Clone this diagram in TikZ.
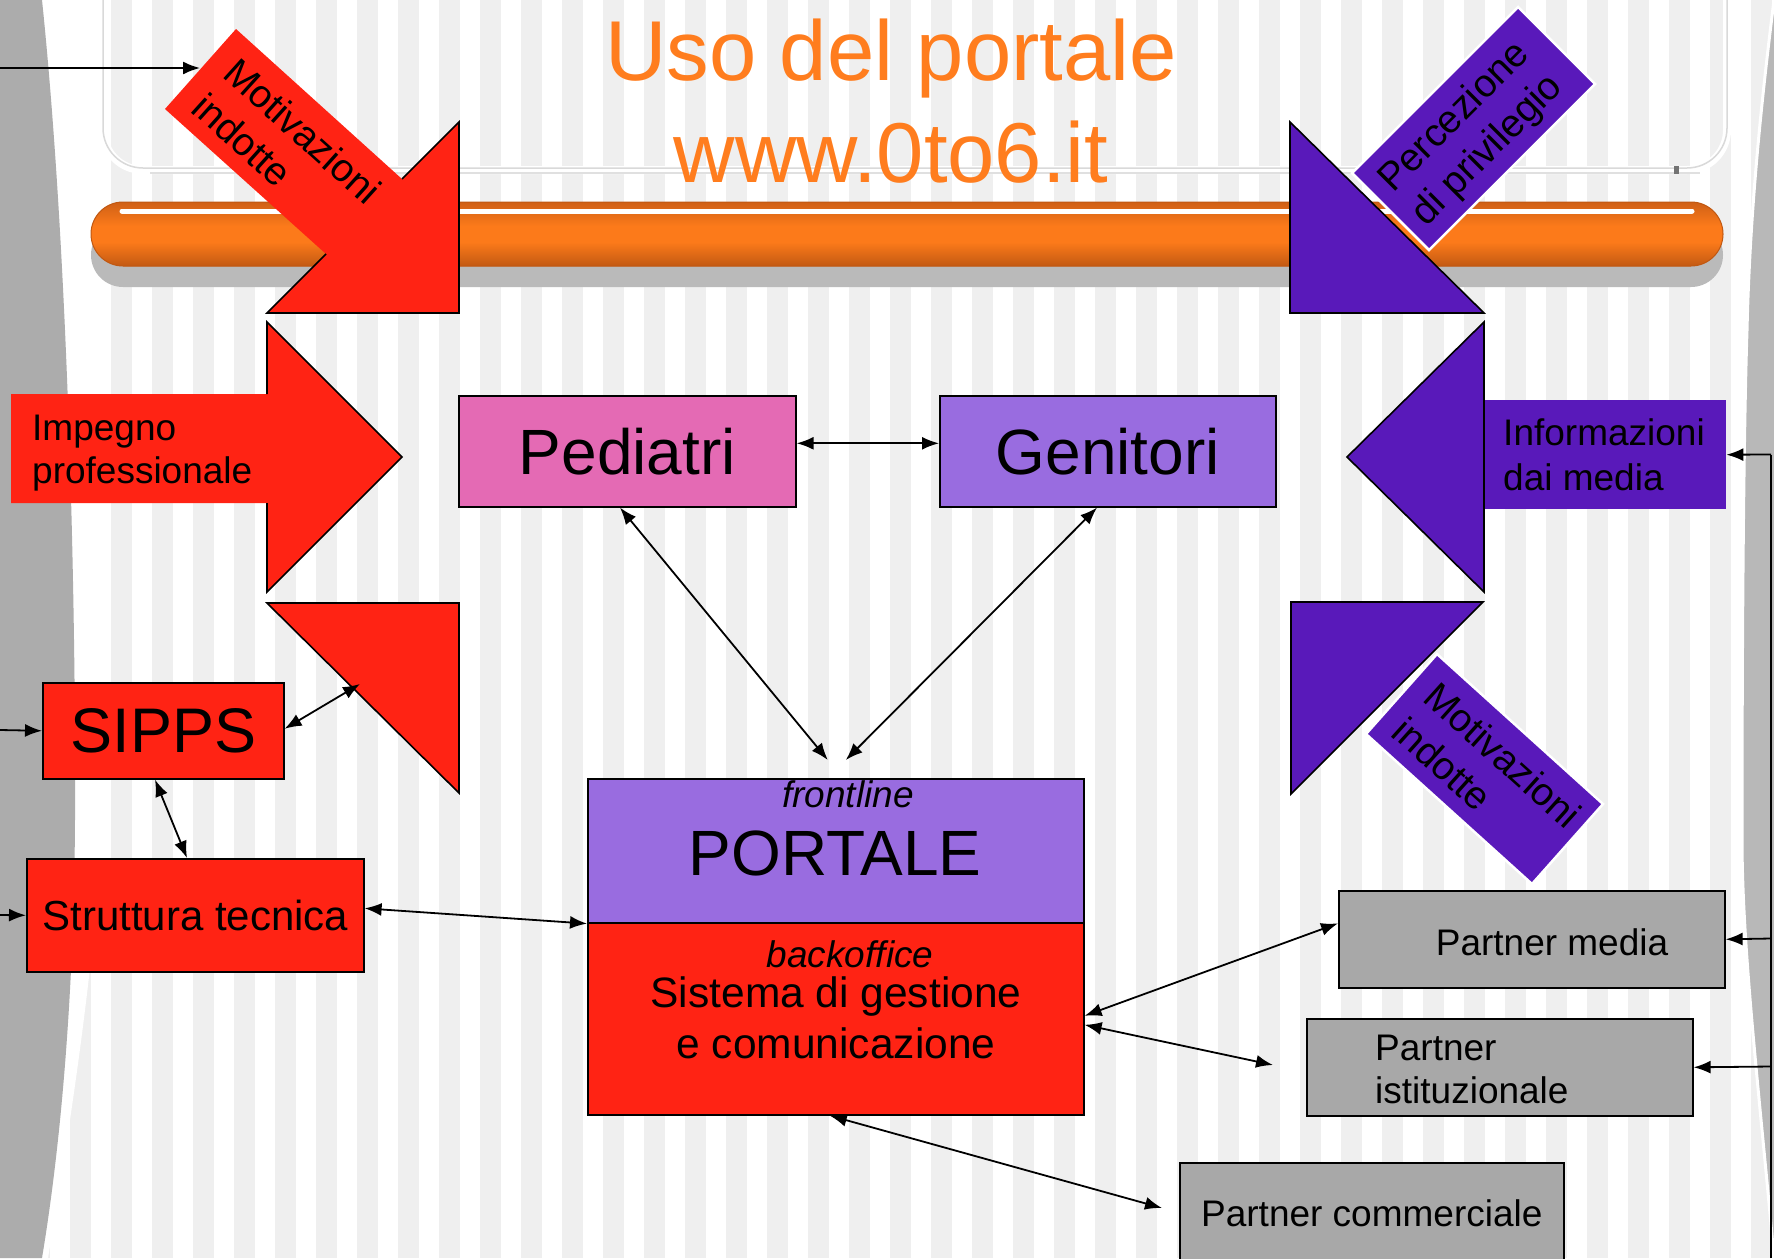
\documentclass[tikz,border=0pt]{standalone}
\usepackage{fontspec}
\setmainfont{Liberation Sans}
\usetikzlibrary{arrows.meta,calc}
\definecolor{rossoC}{RGB}{255,35,20}
\definecolor{violaC}{RGB}{89,25,186}
\definecolor{lillaC}{RGB}{153,108,224}
\definecolor{rosaC}{RGB}{228,106,180}
\definecolor{grigioP}{RGB}{168,168,168}
\definecolor{stripeC}{RGB}{239,239,239}
\definecolor{bandaC}{RGB}{172,172,172}
\definecolor{bandaR}{RGB}{184,184,184}
\definecolor{titoloC}{RGB}{255,125,30}
\definecolor{barTop}{RGB}{205,95,22}
\definecolor{barMid}{RGB}{252,122,26}
\definecolor{barBot}{RGB}{192,88,18}
\definecolor{ombraC}{RGB}{186,186,186}
\newcommand{\myL}[1]{\begin{tabular}[t]{@{}l@{}}#1\end{tabular}}
\newcommand{\myC}[1]{\begin{tabular}[t]{@{}c@{}}#1\end{tabular}}
\begin{document}
\begin{tikzpicture}[x=1pt,y=-1pt,
  bx/.style={draw=black, line width=1.6pt, inner sep=0pt, anchor=north west},
  t37/.style={font=\fontsize{37}{43}\selectfont, inner sep=0pt},
  t40/.style={font=\fontsize{39}{47}\selectfont, inner sep=0pt},
  big/.style={font=\fontsize{64}{70}\selectfont},
  ttl/.style={font=\fontsize{85}{100}\selectfont, text=titoloC, inner sep=0pt, anchor=base},
  lnk/.style={line width=1.8pt, -{Latex[length=17pt,width=13pt]}},
  dlnk/.style={line width=1.8pt, {Latex[length=17pt,width=13pt]}-{Latex[length=17pt,width=13pt]}},
  edge/.style={draw=black, line width=1.6pt, line join=miter},
  vrect/.style={fill=violaC, draw=white, line width=2.5pt}
]
\useasboundingbox (0,0) rectangle (1774,1258);
\clip (0,0) rectangle (1774,1258);
% background
\fill[white] (0,0) rectangle (1774,1258);
\foreach \i in {0,...,43} \fill[stripeC] ({29+41*\i},0) rectangle ++(21,1258);
% white margin next to left band
\fill[white] (0,0) -- (104,0) .. controls (108,400) and (112,700) .. (100,860)
  .. controls (90,1000) and (66,1150) .. (48,1258) -- (0,1258) -- cycle;
% left gray band
\fill[bandaC] (0,0) -- (42,0) .. controls (68,250) and (76,600) .. (75,820)
  .. controls (74,1000) and (60,1150) .. (42,1258) -- (0,1258) -- cycle;
% right gray band
\fill[bandaR] (1774,0) -- (1774,1258) .. controls (1760,1100) and (1742,950) .. (1742,840)
  .. controls (1742,600) and (1744,420) .. (1747,330) .. controls (1750,200) and (1764,80) .. (1774,0);
\draw[white, line width=3pt] (1774,1258) .. controls (1760,1100) and (1742,950) .. (1742,840)
  .. controls (1742,600) and (1744,420) .. (1747,330) .. controls (1750,200) and (1764,80) .. (1774,0);
% title frame
\draw[white, line width=8pt, rounded corners=40pt] (103,-60) -- (103,170) -- (1727,170) -- (1727,-60);
\draw[black!15, line width=1.5pt, rounded corners=40pt] (103,-60) -- (103,168) -- (1727,168) -- (1727,-60);
\draw[black!12, line width=1.5pt] (150,173) -- (1700,173);
\fill[black!55] (1674,166) rectangle (1679,174);
% bar shadow and bar
\fill[ombraC, rounded corners=32pt] (91,223) rectangle (1723,287);
\fill[barMid, rounded corners=32pt] (91,202) rectangle (1723,266);
\begin{scope}
  \clip[rounded corners=32pt] (91,202) rectangle (1723,266);
  \shade[top color=barTop, bottom color=barMid] (91,201) rectangle (1723,226);
  \shade[top color=barMid, bottom color=barBot] (91,242) rectangle (1723,267);
\end{scope}
\draw[barBot, line width=1pt, rounded corners=32pt] (91,202) rectangle (1723,266);
\draw[white, line width=5pt, line cap=round] (122,211) -- (1692,211);
% title
\node[ttl] (tit1) at (891,80) {Uso del portale};
\node[ttl] (tit2) at (891,182) {www.0to6.it};

% ---- red arrow top-left (Motivazioni indotte)
\fill[rossoC] (236,29) -- (402,179) -- (459,122) -- (459,313) -- (267,313) -- (326,254) -- (165,109) -- cycle;
\draw[edge] (402,179) -- (459,122) -- (459,313) -- (267,313) -- (326,254);
\node[t40, rotate=-42, anchor=base west] (motR) at (221,76) {\myL{Motivazioni\\indotte}};
\coordinate (motIn) at (200,68);
\coordinate (srcA) at (0,68);

% ---- Impegno professionale arrow
\fill[rossoC] (11,394) -- (267,394) -- (267,322) -- (402,457) -- (267,592) -- (267,503) -- (11,503) -- cycle;
\draw[edge] (267,394) -- (267,322) -- (402,457) -- (267,592) -- (267,503);
\node[t37, anchor=base west] (imp) at (32,440) {\myL{Impegno\\professionale}};

% ---- lower red triangle
\draw[edge, fill=rossoC] (267,603) -- (459,603) -- (459,793) -- cycle;
\coordinate (sT) at (360,684);

% ---- purple top-right (Percezione di privilegio)
\draw[edge, fill=violaC] (1290,122) -- (1290,313) -- (1484,313) -- cycle;
\filldraw[vrect] (1352,173) -- (1518,7) -- (1595,84) -- (1429,250) -- cycle;
\node[t40, rotate=45, anchor=base west] (perc) at (1393,194) {\myL{Percezione\\di privilegio}};

% ---- Informazioni dai media arrow
\node[fill=violaC, inner sep=0pt, minimum width=243pt, minimum height=109pt, anchor=north west] (info) at (1483,400) {};
\draw[edge, fill=violaC] (1484,322) -- (1347,457) -- (1484,592) -- cycle;
\node[t37, anchor=base west, font=\fontsize{37}{45}\selectfont] (infoT) at (1503,445) {\myL{Informazioni\\dai media}};

% ---- lower purple triangle and Motivazioni indotte
\draw[edge, fill=violaC] (1291,602) -- (1483,602) -- (1291,794) -- cycle;
\filldraw[vrect] (1437,654) -- (1603,804) -- (1532,884) -- (1366,734) -- cycle;
\node[t40, rotate=-42, anchor=base west] (motV) at (1421,700) {\myL{Motivazioni\\indotte}};

% ---- boxes
\node[bx, fill=rosaC, minimum width=337pt, minimum height=111pt, big] (ped) at (458,395) {Pediatri};
\node[bx, fill=lillaC, minimum width=336pt, minimum height=111pt, big] (gen) at (939,395) {Genitori};
\node[bx, fill=lillaC, minimum width=496pt, minimum height=144pt] (portF) at (587,778) {};
\node[bx, fill=rossoC, minimum width=496pt, minimum height=192pt] (portB) at (587,922) {};
\node[t37, anchor=base, font=\fontsize{37}{43}\itshape] (tFront) at (848,807) {frontline};
\node[inner sep=0pt, anchor=base, font=\fontsize{64}{70}\selectfont] (tPort) at (835,875) {PORTALE};
\node[t37, anchor=base, font=\fontsize{37}{43}\itshape] (tBack) at (850,967) {backoffice};
\node[inner sep=0pt, anchor=base, font=\fontsize{42.5}{51}\selectfont] (tSist) at (836,1007) {\myC{Sistema di gestione\\e comunicazione}};
\node[bx, fill=rossoC, minimum width=241pt, minimum height=96pt, big, font=\fontsize{63}{70}\selectfont] (sipps) at (42,682) {SIPPS};
\node[bx, fill=rossoC, minimum width=337pt, minimum height=113pt, font=\fontsize{42}{48}\selectfont] (st) at (26,858) {Struttura tecnica};
\node[bx, fill=grigioP, minimum width=386pt, minimum height=97pt] (pm) at (1338,890) {};
\node[t37, anchor=base] (pmT) at (1552,955) {Partner media};
\node[bx, fill=grigioP, minimum width=386pt, minimum height=97pt] (pi) at (1306,1018) {};
\node[t37, anchor=base west] (piT) at (1375,1060) {\myL{Partner\\istituzionale}};
\node[bx, fill=grigioP, minimum width=384pt, minimum height=100pt, t37] (pc) at (1179,1162) {Partner commerciale};

% ---- connectors
\draw[lnk] (srcA) -- (motIn);
\coordinate (srcB) at (0,730);
\draw[lnk] (srcB) -- (sipps.west);
\coordinate (srcC) at (0,915);
\draw[lnk] (srcC) -- (st.west);
\draw[dlnk] ($(sipps.east)+(0,-2)$) -- (sT);
\draw[dlnk] ($(sipps.south west)+(113,0)$) -- ($(st.north west)+(161,0)$);
\draw[dlnk] ($(st.east)+(0,-7)$) -- (portF.south west);
\draw[dlnk] ($(ped.south west)+(162,0)$) -- ($(portF.north)+(-8,-18)$);
\draw[dlnk] ($(gen.south west)+(158,0)$) -- ($(portF.north)+(10,-18)$);
\draw[dlnk] ($(ped.east)+(0,-8)$) -- ($(gen.west)+(0,-8)$);
\draw[dlnk] ($(portB.east)+(0,-3)$) -- ($(pm.west)+(0,-16)$);
\coordinate (piEnd) at (1273,1065);
\draw[dlnk] ($(portB.east)+(0,6)$) -- (piEnd);
\coordinate (pcEnd) at (1162,1208);
\draw[dlnk] ($(portB.south)+(-6,0)$) -- (pcEnd);
% right feed line
\coordinate (rBot) at (1771,1258);
\coordinate (rTop) at (1771,454.5);
\draw[line width=1.8pt] (rBot) -- (rTop);
\draw[lnk] (rTop) -- (info.east);
\coordinate (rPm) at (1771,938.5);
\draw[lnk] (rPm) -- (pm.east);
\coordinate (rPi) at (1771,1066.5);
\draw[lnk] (rPi) -- (pi.east);
\end{tikzpicture}
\end{document}
